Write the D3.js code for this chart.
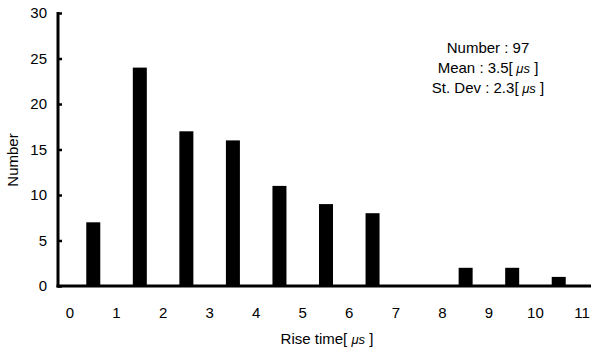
<!DOCTYPE html>
<html><head><meta charset="utf-8">
<script src="https://cdn.jsdelivr.net/npm/d3@7"></script>
<style>body{margin:0;background:#fff}svg text{font-family:"Liberation Sans",Arial,sans-serif;fill:#000}</style>
</head><body>
<svg id="c" width="592" height="351"></svg>
<script>
const bins = [0,1,2,3,4,5,6,7,8,9,10];
const counts = [7,24,17,16,11,9,8,0,2,2,1];
const xTicks = [0,1,2,3,4,5,6,7,8,9,10,11];
const yTicks = [0,5,10,15,20,25,30];
const statLabels = ["Number : 97","Mean : 3.5[","St. Dev : 2.3["];
const statUnits = ["","\u03bcs","\u03bcs"];

const svg = d3.select("#c");
const x = d3.scaleLinear().domain([0,11]).range([70,582]);
const y = d3.scaleLinear().domain([0,30]).range([286,13]);

// bars
svg.selectAll("rect.bar").data(bins).enter().append("rect")
  .attr("x", d => x(d+0.5)-7).attr("width", 14)
  .attr("y", (d,i) => y(counts[i])).attr("height", (d,i) => y(0)-y(counts[i]))
  .attr("fill","#000");

// y axis
const ya = svg.append("g").attr("transform","translate(58,0)")
  .call(d3.axisRight(y).tickValues(yTicks).tickSize(4).tickFormat(""));
ya.select(".domain").remove();
ya.selectAll("line").attr("stroke","#000").attr("stroke-width",2.5);
svg.append("line").attr("x1",58).attr("x2",58).attr("y1",y(30)-1).attr("y2",y(0)+1.5)
  .attr("stroke","#000").attr("stroke-width",3);
svg.selectAll("text.yl").data(yTicks).enter().append("text")
  .attr("x",47).attr("y",d=>y(d)+5).attr("text-anchor","end")
  .attr("font-size",15).text(d=>d);

// x axis
svg.append("line").attr("x1",56.5).attr("x2",591).attr("y1",y(0)).attr("y2",y(0))
  .attr("stroke","#000").attr("stroke-width",3);
svg.selectAll("text.xl").data(xTicks).enter().append("text")
  .attr("x",d=>x(d)).attr("y",318).attr("text-anchor","middle")
  .attr("font-size",15).text(d=>d);

const xt = svg.append("text").attr("x",327).attr("y",344).attr("text-anchor","middle")
  .attr("font-size",15);
xt.append("tspan").text("Rise time[ ");
xt.append("tspan").attr("font-style","italic").attr("font-size",13).text("\u03bcs");
xt.append("tspan").text(" ]");
svg.append("text").attr("transform","translate(18,160) rotate(-90)")
  .attr("text-anchor","middle").attr("font-size",15).text("Number");

const st = svg.selectAll("text.st").data(statLabels).enter().append("text")
  .attr("x",488).attr("y",(d,i)=>53+i*20).attr("text-anchor","middle")
  .attr("font-size",15);
st.append("tspan").text(d=>d);
st.append("tspan").attr("font-style","italic").attr("font-size",13).text((d,i)=>statUnits[i] ? " " + statUnits[i] : "");
st.append("tspan").text((d,i)=>statUnits[i] ? " ]" : "");
</script>
</body></html>
